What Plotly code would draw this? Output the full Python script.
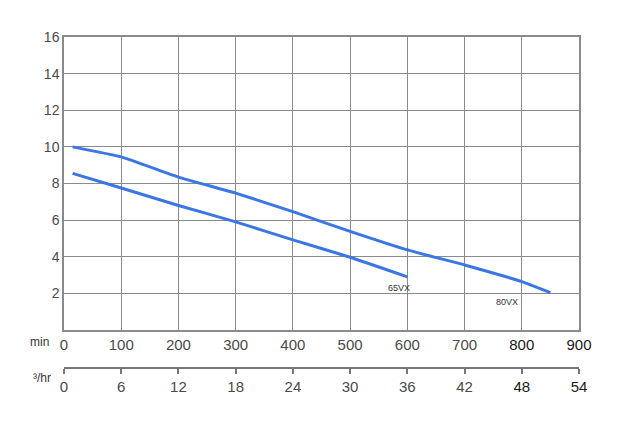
import plotly.graph_objects as go

# pump curves: head (m) vs flow (L/min)
flow_80vx = [15, 100, 200, 300, 400, 500, 600, 700, 800, 850]
head_80vx = [10.0, 9.45, 8.35, 7.47, 6.46, 5.38, 4.37, 3.55, 2.64, 2.04]

flow_65vx = [15, 100, 200, 300, 400, 500, 600]
head_65vx = [8.55, 7.75, 6.8, 5.9, 4.92, 3.97, 2.9]

lpm_ticks = [0, 100, 200, 300, 400, 500, 600, 700, 800, 900]
m3h_ticks = [0, 6, 12, 18, 24, 30, 36, 42, 48, 54]
head_ticks = [2, 4, 6, 8, 10, 12, 14, 16]

LINE_COLOR = "#3a76e4"
GRID_COLOR = "#8a8a8a"
TEXT_COLOR = "#4a4a4a"
DARK_TEXT = "#1a1a1a"
FONT = "Liberation Sans, Arial, sans-serif"


def _tick_text(values, dark):
    out = []
    for v in values:
        color = DARK_TEXT if v in dark else TEXT_COLOR
        out.append(f"<span style='color:{color}'>{v}</span>")
    return out


fig = go.Figure()

for flow, head in [(flow_80vx, head_80vx), (flow_65vx, head_65vx)]:
    fig.add_trace(
        go.Scatter(
            x=flow,
            y=head,
            mode="lines",
            line=dict(color=LINE_COLOR, width=3, shape="spline", smoothing=0.4),
            showlegend=False,
            hoverinfo="skip",
        )
    )

# invisible trace so the m3/hr axis gets drawn
fig.add_trace(
    go.Scatter(
        x=[m3h_ticks[0], m3h_ticks[-1]],
        y=[None, None],
        xaxis="x2",
        mode="lines",
        showlegend=False,
        hoverinfo="skip",
    )
)

fig.add_annotation(
    x=585, y=2.3, text="65VX", showarrow=False,
    font=dict(size=9, color="#333333", family=FONT),
)
fig.add_annotation(
    x=775, y=1.5, text="80VX", showarrow=False,
    font=dict(size=9, color="#333333", family=FONT),
)
fig.add_annotation(
    xref="paper", yref="paper", x=-0.025, y=0.134, text="min",
    showarrow=False, xanchor="right",
    font=dict(size=12, color="#333333", family=FONT),
)
fig.add_annotation(
    xref="paper", yref="paper", x=-0.022, y=0.035, text="³/hr",
    showarrow=False, xanchor="right",
    font=dict(size=12, color="#333333", family=FONT),
)

fig.update_layout(
    width=620,
    height=430,
    margin=dict(l=56, r=49, t=29, b=38),
    paper_bgcolor="white",
    plot_bgcolor="white",
    font=dict(family=FONT, size=14, color=TEXT_COLOR),
    xaxis=dict(
        range=[0, 900],
        tickvals=lpm_ticks,
        ticktext=_tick_text(lpm_ticks, {800, 900}),
        tickfont=dict(size=15),
        showgrid=True,
        gridcolor=GRID_COLOR,
        gridwidth=1.3,
        showline=True,
        linecolor=GRID_COLOR,
        linewidth=1.5,
        mirror=True,
        zeroline=False,
        ticks="",
        anchor="y",
    ),
    xaxis2=dict(
        range=[0, 54],
        tickvals=m3h_ticks,
        ticktext=_tick_text(m3h_ticks, {48, 54}),
        tickfont=dict(size=15),
        overlaying="x",
        anchor="free",
        position=0.088,
        side="bottom",
        showgrid=False,
        showline=True,
        linecolor="#777777",
        linewidth=1.5,
        ticks="outside",
        ticklen=5,
        tickcolor="#777777",
        tickwidth=1.5,
        zeroline=False,
    ),
    yaxis=dict(
        range=[0, 16],
        tickvals=head_ticks,
        domain=[0.193, 1],
        showgrid=True,
        gridcolor=GRID_COLOR,
        gridwidth=1.3,
        showline=True,
        linecolor=GRID_COLOR,
        linewidth=1.5,
        mirror=True,
        zeroline=False,
        ticks="",
    ),
)

fig.write_html("out.html")
